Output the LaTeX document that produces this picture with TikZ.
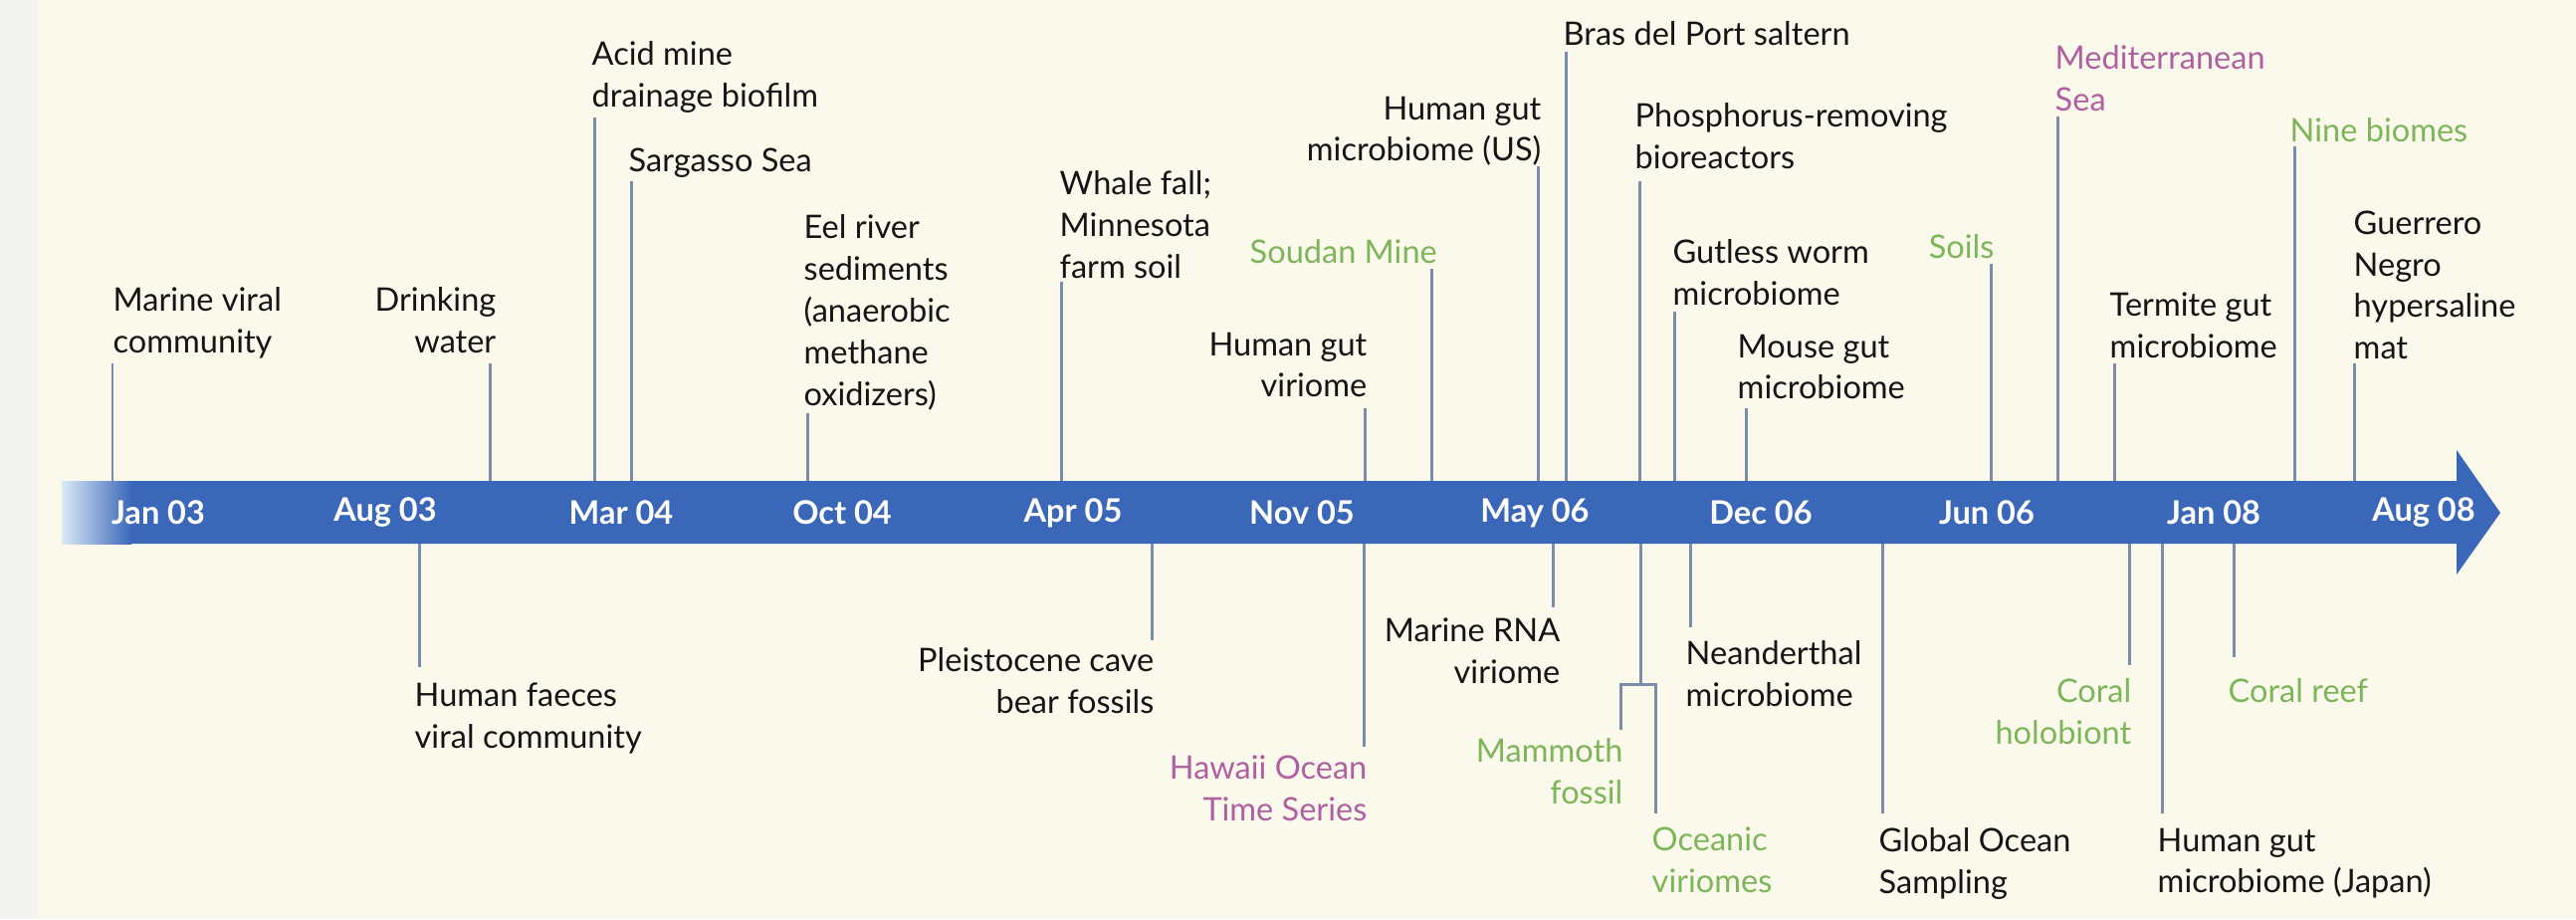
\documentclass[tikz,border=0pt]{standalone}
\usepackage{fontspec}
\setmainfont{Lato}
\usetikzlibrary{calc}
\definecolor{bg}{HTML}{FBF9EC}
\definecolor{stripc}{HTML}{F3F3F0}
\definecolor{band}{HTML}{3A67B8}
\definecolor{bandlight}{HTML}{DCEAF7}
\definecolor{tickc}{HTML}{7A8DAA}
\definecolor{grn}{HTML}{7DB65A}
\definecolor{pur}{HTML}{B060A0}
\definecolor{txt}{HTML}{151515}
\begin{document}
\begin{tikzpicture}[x=0.01cm,y=-0.01cm,
  lbl/.style={inner sep=0pt, font=\fontsize{9.25pt}{11.9pt}\selectfont, text=txt},
  lw/.style={lbl, anchor=north west, align=left},
  le/.style={lbl, anchor=north east, align=right},
  gtxt/.style={text=grn},
  ptxt/.style={text=pur},
  tick/.style={draw=tickc, line width=0.85pt},
  datelbl/.style={font=\bfseries\fontsize{9.25pt}{11pt}\selectfont, text=white, inner sep=0pt}]
\useasboundingbox (0,0) rectangle (2588,923);
\fill[bg] (0,0) rectangle (2588,923);
\fill[stripc] (0,0) rectangle (38,923);

% timeline arrow
\fill[band] (62,483) -- (2468,483) -- (2468,452) -- (2512,515) -- (2468,577) -- (2468,546) -- (62,546) -- cycle;
\shade[left color=bandlight, right color=band] (62,483) rectangle (132,546);
\coordinate (btop) at (0,483);
\coordinate (bbot) at (0,546);

% dates
\node[datelbl] (d1) at (159,515) {Jan 03};
\node[datelbl] (d2) at (387,515) {Aug 03};
\node[datelbl] (d3) at (624,515) {Mar 04};
\node[datelbl] (d4) at (846,515) {Oct 04};
\node[datelbl] (d5) at (1078,515) {Apr 05};
\node[datelbl] (d6) at (1308,515) {Nov 05};
\node[datelbl] (d7) at (1542,515) {May 06};
\node[datelbl] (d8) at (1769,515) {Dec 06};
\node[datelbl] (d9) at (1996,515) {Jun 06};
\node[datelbl] (d10) at (2224,515) {Jan 08};
\node[datelbl] (d11) at (2435,515) {Aug 08};

% labels above
\node[lw] (mvc) at (113,288) {Marine viral\\community};
\node[le] (dw) at (499,288) {Drinking\\water};
\node[lw] (amd) at (594,41) {Acid mine\\drainage biofilm};
\node[lw] (ss) at (631,148) {Sargasso Sea};
\node[lw] (eel) at (807,215) {Eel river\\sediments\\(anaerobic\\methane\\oxidizers)};
\node[lw] (wf) at (1064,171) {Whale fall;\\Minnesota\\farm soil};
\node[lw,gtxt] (sm) at (1255,240) {Soudan Mine};
\node[le] (hgv) at (1374,333) {Human gut\\viriome};
\node[le] (hgus) at (1549,96) {Human gut\\microbiome (US)};
\node[lw] (bras) at (1570,21) {Bras del Port saltern};
\node[lw] (phos) at (1642,103) {Phosphorus-removing\\bioreactors};
\node[lw] (gw) at (1680,240) {Gutless worm\\microbiome};
\node[lw] (mouse) at (1745,335) {Mouse gut\\microbiome};
\node[le,gtxt] (soils) at (2004,235) {Soils};
\node[lw,ptxt] (med) at (2064,45) {Mediterranean\\Sea};
\node[lw] (term) at (2119,293) {Termite gut\\microbiome};
\node[lw,gtxt] (nine) at (2300,118) {Nine biomes};
\node[lw] (gn) at (2364,211) {Guerrero\\Negro\\hypersaline\\mat};

% labels below
\node[lw] (hf) at (416,685) {Human faeces\\viral community};
\node[le] (pleis) at (1160,650) {Pleistocene cave\\bear fossils};
\node[le,ptxt] (hot) at (1374,758) {Hawaii Ocean\\Time Series};
\node[le] (mrna) at (1568,620) {Marine RNA\\viriome};
\node[le,gtxt] (mam) at (1631,741) {Mammoth\\fossil};
\node[lw,gtxt] (ocv) at (1659,830) {Oceanic\\viriomes};
\node[lw] (nean) at (1693,643) {Neanderthal\\microbiome};
\node[lw] (gos) at (1887,831) {Global Ocean\\Sampling};
\node[le,gtxt] (ch) at (2142,681) {Coral\\holobiont};
\node[lw] (hgj) at (2167,831) {Human gut\\microbiome (Japan)};
\node[lw,gtxt] (cr) at (2238,681) {Coral reef};

% tick ends above
\coordinate (tmvc) at (113,365);
\coordinate (tdw) at (492,365);
\coordinate (tamd) at (597,118);
\coordinate (tss) at (634,182);
\coordinate (teel) at (811,415);
\coordinate (twf) at (1066,283);
\coordinate (tsm) at (1438,270);
\coordinate (thgv) at (1371,410);
\coordinate (thgus) at (1545,167);
\coordinate (tbras) at (1573,52);
\coordinate (tphos) at (1647,182);
\coordinate (tgw) at (1682,313);
\coordinate (tmouse) at (1754,410);
\coordinate (tsoils) at (2000,265);
\coordinate (tmed) at (2067,117);
\coordinate (tterm) at (2124,365);
\coordinate (tnine) at (2305,147);
\coordinate (tgn) at (2365,365);
\foreach \t in {tmvc,tdw,tamd,tss,teel,twf,tsm,thgv,thgus,tbras,tphos,tgw,tmouse,tsoils,tmed,tterm,tnine,tgn}
  \draw[tick] (\t) -- (\t |- btop);

% tick ends below
\coordinate (thf) at (421,670);
\coordinate (tpleis) at (1157,643);
\coordinate (thot) at (1370,750);
\coordinate (tmrna) at (1560,610);
\coordinate (tnean) at (1698,630);
\coordinate (tgos) at (1891,817);
\coordinate (tch) at (2139,668);
\coordinate (thgj) at (2172,817);
\coordinate (tcr) at (2244,660);
\foreach \t in {thf,tpleis,thot,tmrna,tnean,tgos,tch,thgj,tcr}
  \draw[tick] (\t |- bbot) -- (\t);

% bracket for mammoth / oceanic
\coordinate (bk) at (1648,687);
\coordinate (tmam) at (1628,733);
\coordinate (tocv) at (1663,817);
\draw[tick] (bk |- bbot) -- (bk);
\draw[tick] (tmam) |- (bk) -| (tocv);
\end{tikzpicture}
\end{document}
